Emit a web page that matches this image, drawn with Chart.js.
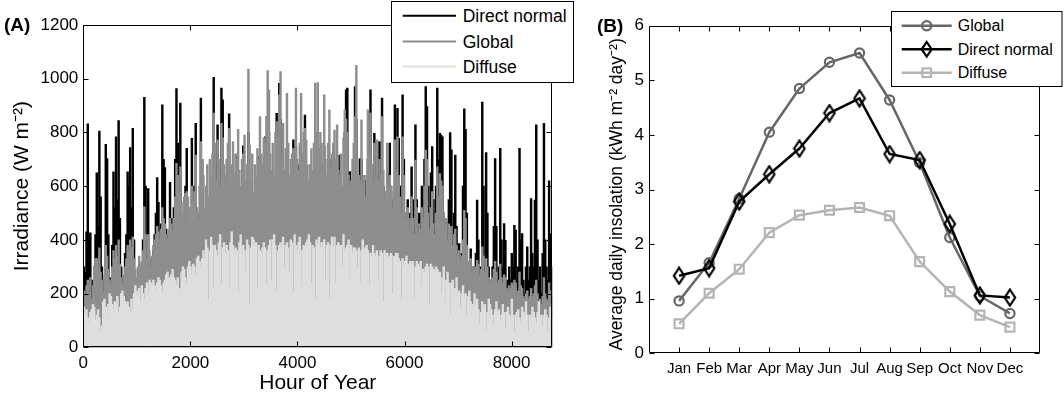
<!DOCTYPE html>
<html><head><meta charset="utf-8">
<script src="https://cdn.jsdelivr.net/npm/chart.js@4/dist/chart.umd.min.js"></script>
<style>
html,body{margin:0;padding:0;background:#fff;}
#wrap{position:relative;width:1064px;height:398px;overflow:hidden;font-family:'Liberation Sans',Arial,sans-serif;}
canvas{position:absolute;top:0;}
#cA{left:0;} #cB{left:560px;}
.lbl{position:absolute;font-weight:bold;font-size:19px;line-height:19px;color:#000;}
svg.leg{position:absolute;font-family:'Liberation Sans',Arial,sans-serif;}
</style></head><body>
<div id="wrap">
<canvas id="cA" width="560" height="398"></canvas>
<canvas id="cB" width="504" height="398"></canvas>
<div class="lbl" style="left:4px;top:15px">(A)</div>
<div class="lbl" style="left:597px;top:16px">(B)</div>
<svg class="leg" style="left:391px;top:0px" width="185" height="84">
  <rect x="0.5" y="1.5" width="182" height="81" fill="#fff" stroke="#000" stroke-width="1"/>
  <line x1="11.7" y1="15.7" x2="65" y2="15.7" stroke="#000" stroke-width="2"/>
  <text x="71.7" y="15.7" dominant-baseline="central" font-size="17.5">Direct normal</text>
  <line x1="11.7" y1="41.5" x2="65" y2="41.5" stroke="#8e8e8e" stroke-width="2"/>
  <text x="71.7" y="41.5" dominant-baseline="central" font-size="17.5">Global</text>
  <line x1="11.7" y1="66.5" x2="65" y2="66.5" stroke="#dedede" stroke-width="2"/>
  <text x="71.7" y="66.5" dominant-baseline="central" font-size="17.5">Diffuse</text>
</svg>
<svg class="leg" style="left:891px;top:11px" width="173" height="78">
  <rect x="0.5" y="0.5" width="170.5" height="75" fill="#fff" stroke="#000" stroke-width="1"/>
  <line x1="10.7" y1="14.7" x2="60.7" y2="14.7" stroke="#676767" stroke-width="2.5"/>
  <circle cx="35.7" cy="14.7" r="4.6" fill="none" stroke="#676767" stroke-width="2.2"/>
  <text x="66.7" y="14.7" dominant-baseline="central" font-size="16">Global</text>
  <line x1="10.7" y1="38.3" x2="60.7" y2="38.3" stroke="#000" stroke-width="2.5"/>
  <path d="M35.7,31 L40.7,38.3 L35.7,45.6 L30.7,38.3 Z" fill="none" stroke="#000" stroke-width="2.2"/>
  <text x="66.7" y="38.3" dominant-baseline="central" font-size="16">Direct normal</text>
  <line x1="10.7" y1="61.7" x2="60.7" y2="61.7" stroke="#b4b4b4" stroke-width="2.5"/>
  <rect x="31.4" y="57.4" width="8.6" height="8.6" fill="none" stroke="#b4b4b4" stroke-width="2.2"/>
  <text x="66.7" y="61.7" dominant-baseline="central" font-size="16">Diffuse</text>
</svg>
</div>
<script>
// ---------- Panel A: daily peak irradiance (W m^-2), one value per day of year ----------
const DAILY_DIRECT = [
300,280,430,832,420,426,250,200,300,420, 650,450,805,560,300,180,250,756,703,420,
260,220,380,653,520,784,550,844,480,300, 220,260,350,420,653,600,744,520,815,400,
240,200,260,310,220,280,400,931,600,350, 591,330,240,300,360,420,500,632,540,380,
460,903,700,669,440,350,420,614,480,400, 520,700,963,760,600,909,500,420,460,600,
741,520,420,300,778,500,600,834,420,350, 500,928,700,
450,300,350,400,280,500,420,600,1005,700, 500,828,550,400,965,921,600,450,500,700,
869,400,500,650,450,550,716,600,450,380, 500,750,600,400,450,800,600,400,500,350,
450,400,600,710,700,500,450,600,784,700, 850,800,500,450,550,400,600,871,700,983,
850,500,650,450,500,700,550,400,450,500, 772,550,750,500,679,550,700,500,600,865,
600,450,400,500,550,450,600,800,600,780, 550,600,
600,500,750,500,450,600,700,450,500,550, 650,500,650,450,716,550,400,600,800,959,
965,500,654,450,600,700,971,850,600,500, 703,700,450,500,623,550,700,600,959,600,
500,797,550,650,500,766,600,928,600,450, 500,650,550,760,600,450,550,903,700,890,
778,600,500,940,700,500,450,550,400,500, 672,550,450,828,550,400,500,450,600,550,
700,971,896,600,500,650,747,550,450,600, 965,700,
797,790,784,500,400,467,300,550,799,735, 400,500,716,450,300,386,250,350,600,888,
812,500,300,250,367,200,300,250,350,548, 400,250,300,913,600,300,725,500,300,200,
250,300,450,703,450,250,300,741,400,300, 461,398,250,200,300,250,350,300,454,436,
250,300,741,400,423,250,200,300,374,250, 300,554,350,300,548,828,400,250,300,200,
350,834,400,300,250,620,423,300
];
const DAILY_GLOBAL = [
210,190,230,250,200,260,180,230,300,330, 330,290,370,280,250,210,270,380,340,290,
250,230,300,360,330,380,340,400,310,260, 240,270,300,330,380,360,400,370,410,330,
290,260,300,340,280,320,360,523,420,330, 420,360,300,340,380,400,420,450,430,400,
440,520,480,460,420,400,440,480,460,430, 480,560,685,640,580,672,540,500,560,573,
580,560,520,450,600,540,580,716,520,480, 600,766,700,
640,520,600,680,560,700,640,720,872,760, 620,772,700,600,834,780,680,640,700,760,
815,600,680,766,640,720,700,812,660,600, 700,720,790,620,680,1036,753,620,720,580,
680,640,740,700,859,720,680,780,760,860, 1030,959,720,660,760,640,800,840,780,940,
1027,700,834,660,740,946,760,640,700,720, 740,740,965,700,660,760,946,720,800,815,
772,680,620,680,740,660,760,984,780,986, 740,800,
760,680,940,700,640,760,884,660,720,760, 809,700,828,660,640,720,600,780,884,850,
800,640,600,620,700,760,859,1050,700,640, 620,847,600,640,560,640,884,720,872,680,
620,760,640,772,620,700,640,859,660,560, 580,760,600,640,600,520,580,772,660,784,
640,560,500,784,640,500,480,520,440,480, 560,480,420,697,520,420,460,440,520,480,
600,734,700,500,440,520,580,460,420,500, 672,560,
647,620,600,500,450,480,400,460,448,450, 380,420,440,380,340,360,320,340,400,510,
480,380,320,300,330,280,300,290,300,324, 310,270,290,374,340,280,330,300,260,230,
250,260,290,320,280,240,250,310,260,240, 270,260,220,210,230,220,240,230,250,240,
200,210,280,230,220,190,180,200,210,180, 190,220,190,200,230,250,200,170,180,160,
190,260,200,180,170,240,210,190
];
const DAILY_DIFFUSE = [
150,120,140,110,90,130,140,160,150,100, 120,140,110,60,80,170,180,150,120,160,
200,190,160,140,170,160,190,130,150,200, 210,190,170,160,170,150,130,180,140,200,
230,210,190,220,170,230,200,180,220,240, 200,250,240,230,250,230,210,240,260,250,
230,200,240,250,270,280,260,240,270,290, 260,250,230,260,200,220,280,300,290,260,
240,300,320,300,270,310,300,270,330,340, 320,300,330,
360,330,400,370,180,360,410,380,220,380, 360,340,390,420,240,370,390,350,380,360,
220,390,430,380,360,370,360,200,390,420, 350,380,360,280,400,380,160,370,410,400,
380,390,220,380,360,350,370,390,370,240, 360,380,400,250,400,420,380,210,360,380,
390,370,410,300,380,390,370,280,400,390, 210,420,380,360,390,410,230,360,380,370,
390,400,420,390,240,380,370,180,400,380, 410,370,
390,360,400,250,380,390,180,380,410,370, 410,240,380,390,380,380,300,420,360,370,
380,400,260,380,350,370,370,360,300,370, 240,360,400,350,370,380,360,230,350,340,
380,350,340,360,250,340,360,350,170,360, 340,350,330,340,350,200,340,330,350,350,
330,320,180,330,300,320,340,310,300,320, 310,320,180,300,320,310,300,320,230,290,
280,300,310,300,160,310,300,290,280,300, 290,280,
280,200,260,300,150,250,280,240,120,240, 250,180,220,260,200,210,150,200,230,190,
200,120,190,210,170,140,160,200,150,180, 140,90,130,170,150,160,60,130,180,160,
140,120,80,140,170,130,140,100,120,160, 130,70,130,150,120,110,180,120,60,120,
130,140,110,90,150,130,120,170,120,60, 120,110,150,130,110,90,130,170,110,120,
80,120,140,120,60,110,150,110
];
const A_X_TICKS = [0, 2000, 4000, 6000, 8000];
const A_Y_TICKS = [0, 200, 400, 600, 800, 1000, 1200];
const HOURS_PER_DAY = 24;

// ---------- Panel B: average daily insolation (kWh m^-2 day^-1) ----------
const MONTHS = ['Jan','Feb','Mar','Apr','May','Jun','Jul','Aug','Sep','Oct','Nov','Dec'];
const MONTHLY_GLOBAL  = [0.96, 1.66, 2.83, 4.05, 4.85, 5.33, 5.50, 4.64, 3.49, 2.12, 1.05, 0.73];
const MONTHLY_DIRECT  = [1.42, 1.56, 2.78, 3.28, 3.75, 4.40, 4.67, 3.65, 3.54, 2.37, 1.06, 1.02];
const MONTHLY_DIFFUSE = [0.54, 1.10, 1.54, 2.21, 2.53, 2.62, 2.67, 2.52, 1.68, 1.13, 0.70, 0.48];
const B_Y_TICKS = [0, 1, 2, 3, 4, 5, 6];

Chart.defaults.font.family = "'Liberation Sans', Arial, sans-serif";
Chart.defaults.color = '#000';

const dailyPoints = arr => arr.map((v, d) => ({x: d * HOURS_PER_DAY + HOURS_PER_DAY / 2, y: v}));
const plain = v => String(v);

const frameTicks = {
  id: 'frameTicks',
  afterDatasetsDraw(chart) {
    const {ctx, chartArea: a, scales: {x, y}} = chart;
    const L = 5;
    const l = Math.round(a.left) + 0.5, r = Math.round(a.right) - 0.5;
    const t = Math.round(a.top) + 0.5, b = Math.round(a.bottom) - 0.5;
    ctx.save();
    ctx.strokeStyle = '#000';
    ctx.lineWidth = 1;
    ctx.beginPath();
    x.ticks.forEach(tk => {
      const px = Math.round(x.getPixelForValue(tk.value)) + 0.5;
      ctx.moveTo(px, b); ctx.lineTo(px, b - L);
      ctx.moveTo(px, t); ctx.lineTo(px, t + L);
    });
    y.ticks.forEach(tk => {
      const py = Math.round(y.getPixelForValue(tk.value)) + 0.5;
      ctx.moveTo(l, py); ctx.lineTo(l + L, py);
      ctx.moveTo(r, py); ctx.lineTo(r - L, py);
    });
    ctx.rect(l, t, r - l, b - t);
    ctx.stroke();
    ctx.restore();
  }
};

function setTicks(list) { return s => { s.ticks = list.map(v => ({value: v})); }; }

// Panel A
new Chart(document.getElementById('cA'), {
  type: 'bar',
  data: { datasets: [
    {label: 'Diffuse', data: dailyPoints(DAILY_DIFFUSE), backgroundColor: '#dedede'},
    {label: 'Global', data: dailyPoints(DAILY_GLOBAL), backgroundColor: '#8e8e8e'},
    {label: 'Direct normal', data: dailyPoints(DAILY_DIRECT), backgroundColor: '#000000'}
  ]},
  options: {
    responsive: false, animation: false, devicePixelRatio: 1,
    layout: {padding: {left: 0, right: 7.7, top: 25, bottom: 0}},
    datasets: {bar: {barThickness: 1.8, grouped: false, borderWidth: 0}},
    plugins: {legend: {display: false}, tooltip: {enabled: false}},
    scales: {
      x: {
        type: 'linear', min: 0, max: 8760, offset: false,
        grid: {display: false, drawTicks: false, offset: false}, border: {display: false},
        afterBuildTicks: setTicks(A_X_TICKS),
        afterFit: s => { s.height = 50.7; s.paddingLeft = 0; s.paddingRight = 0; },
        ticks: {padding: 6, autoSkip: false, maxRotation: 0, font: {size: 17}, color: '#000', callback: plain},
        title: {display: true, text: 'Hour of Year', font: {size: 21}, color: '#000', padding: {top: 0, bottom: 2}}
      },
      y: {
        type: 'linear', min: 0, max: 1200,
        grid: {display: false, drawTicks: false}, border: {display: false},
        afterBuildTicks: setTicks(A_Y_TICKS),
        afterFit: s => { s.width = 83.3; s.paddingTop = 0; s.paddingBottom = 0; },
        ticks: {padding: 5, font: {size: 17}, color: '#000', callback: plain},
        title: {display: true, text: 'Irradiance (W m\u207B\u00B2)', font: {size: 21}, color: '#000', padding: {top: 9.4, bottom: 0}}
      }
    }
  },
  plugins: [frameTicks]
});

// diamond marker glyph (taller than wide, hollow)
function diamondGlyph() {
  const c = document.createElement('canvas');
  c.width = 14; c.height = 19;
  const g = c.getContext('2d');
  g.strokeStyle = '#000'; g.lineWidth = 2.2;
  g.beginPath();
  g.moveTo(7, 1.5); g.lineTo(12.2, 9.5); g.lineTo(7, 17.5); g.lineTo(1.8, 9.5); g.closePath();
  g.stroke();
  return c;
}
const monthPoints = arr => arr.map((v, i) => ({x: i + 1, y: v}));

// Panel B
new Chart(document.getElementById('cB'), {
  type: 'line',
  data: { datasets: [
    {label: 'Diffuse', data: monthPoints(MONTHLY_DIFFUSE), borderColor: '#b4b4b4', borderWidth: 2.5,
     pointStyle: 'rect', pointRadius: 6.3, pointBorderWidth: 2.2, pointBorderColor: '#b4b4b4',
     pointBackgroundColor: 'rgba(0,0,0,0)', tension: 0, order: 0},
    {label: 'Direct normal', data: monthPoints(MONTHLY_DIRECT), borderColor: '#000', borderWidth: 2.5,
     pointStyle: diamondGlyph(), pointRadius: 7, tension: 0, order: 1},
    {label: 'Global', data: monthPoints(MONTHLY_GLOBAL), borderColor: '#676767', borderWidth: 2.5,
     pointStyle: 'circle', pointRadius: 4.6, pointBorderWidth: 2.2, pointBorderColor: '#676767',
     pointBackgroundColor: 'rgba(0,0,0,0)', tension: 0, order: 2}
  ]},
  options: {
    responsive: false, animation: false, devicePixelRatio: 1,
    layout: {padding: {left: 0, right: 24, top: 25.7, bottom: 0}},
    plugins: {legend: {display: false}, tooltip: {enabled: false}},
    scales: {
      x: {
        type: 'linear', min: 0, max: 13, offset: false,
        grid: {display: false, drawTicks: false}, border: {display: false},
        afterBuildTicks: setTicks(MONTHS.map((m, i) => i + 1)),
        afterFit: s => { s.height = 44.7; s.paddingLeft = 0; s.paddingRight = 0; },
        ticks: {padding: 6.7, autoSkip: false, maxRotation: 0, font: {size: 15}, color: '#000',
                callback: v => MONTHS[v - 1] || ''}
      },
      y: {
        type: 'linear', min: 0, max: 6,
        grid: {display: false, drawTicks: false}, border: {display: false},
        afterBuildTicks: setTicks(B_Y_TICKS),
        afterFit: s => { s.width = 89; s.paddingTop = 0; s.paddingBottom = 0; },
        ticks: {padding: 5, font: {size: 17}, color: '#000', callback: plain},
        title: {display: true, text: 'Average daily insolation (kWh m\u207B\u00B2 day\u207B\u00B2)  ', font: {size: 17.5}, color: '#000', padding: {top: 46.5, bottom: 0}}
      }
    }
  },
  plugins: [frameTicks]
});
</script>
</body></html>
